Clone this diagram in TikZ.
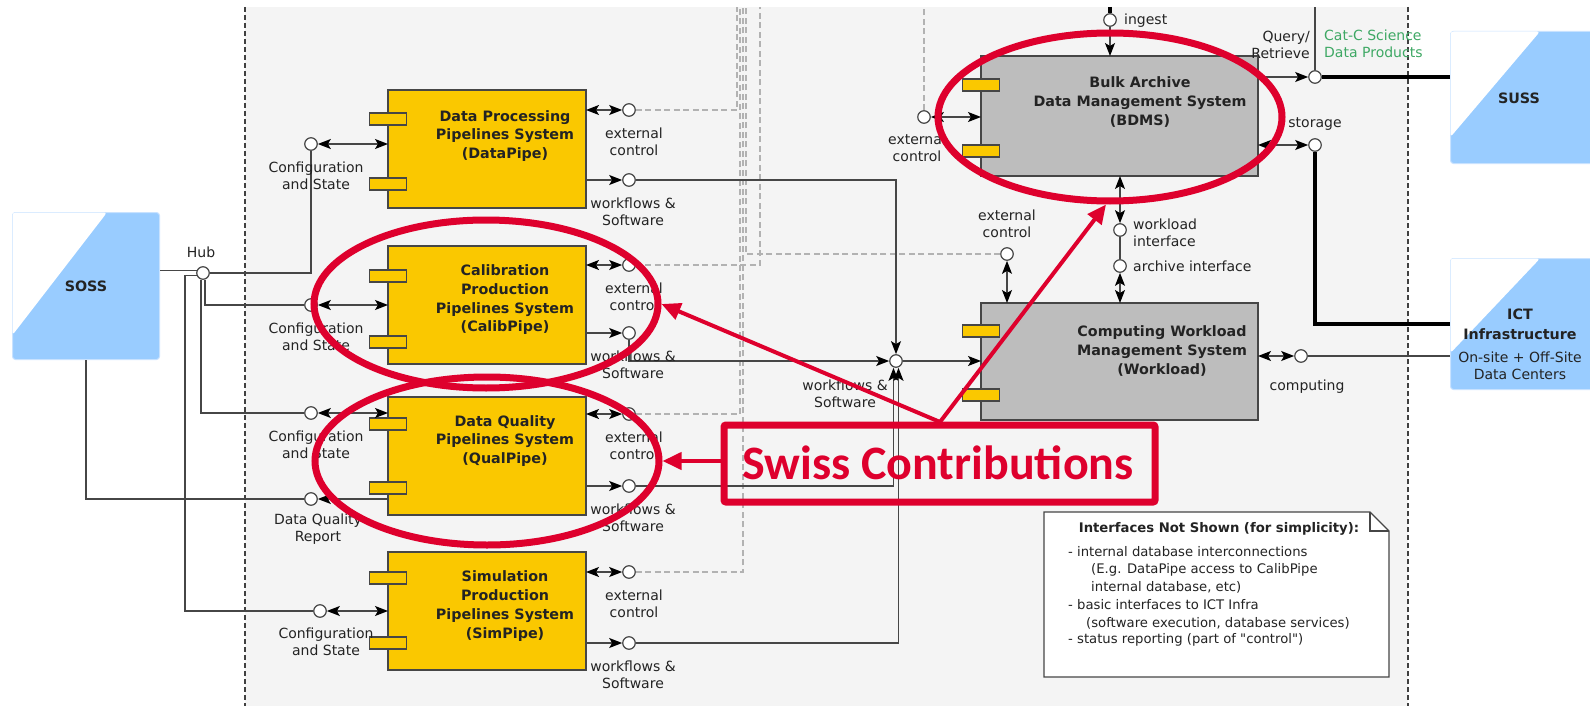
\documentclass[tikz,border=0pt]{standalone}
\usepackage{fontspec}
\setmainfont{DejaVu Sans}
\newfontfamily\swissfont{Carlito}
\usetikzlibrary{arrows.meta,calc,shapes.geometric}
\definecolor{panelgray}{RGB}{244,244,244}
\definecolor{compyellow}{RGB}{250,200,0}
\definecolor{compgray}{RGB}{189,189,189}
\definecolor{extblue}{RGB}{153,204,255}
\definecolor{extedge}{RGB}{200,226,255}
\definecolor{linegray}{RGB}{70,70,70}
\definecolor{dashgray}{RGB}{178,178,178}
\definecolor{swissred}{RGB}{222,0,45}
\definecolor{catgreen}{RGB}{62,168,100}
\definecolor{textgray}{RGB}{35,35,35}
\newcommand{\lblsize}{\fontsize{14}{17}\selectfont}
\newcommand{\boxsize}{\bfseries\fontsize{14.3}{18.7}\selectfont}
\newcommand{\notesize}{\fontsize{13.2}{17.6}\selectfont}
\begin{document}
\begin{tikzpicture}[x=1pt,y=-1pt,
  comp/.style={draw=linegray,line width=1.3pt,fill=compyellow,minimum width=198pt,minimum height=118pt,inner sep=0pt,outer sep=0pt,anchor=north west},
  graycomp/.style={comp,fill=compgray,minimum width=277pt},
  portbox/.style={draw=linegray,line width=1.1pt,fill=compyellow,minimum width=37pt,minimum height=12pt,inner sep=0pt},
  iface/.style={circle,draw=linegray,line width=1.2pt,fill=white,minimum size=12.5pt,inner sep=0pt},
  conn/.style={draw=linegray,line width=1.3pt},
  arr/.style={conn,-{Stealth[length=13pt,width=10pt,inset=3pt,color=black]}},
  darr/.style={conn,{Stealth[length=13pt,width=10pt,inset=3pt,color=black]}-{Stealth[length=13pt,width=10pt,inset=3pt,color=black]}},
  ctrldash/.style={draw=dashgray,line width=1.3pt,dash pattern=on 6pt off 3.5pt},
  heavy/.style={draw=black,line width=3.8pt},
  lbl/.style={font=\lblsize,text=textgray,align=center,inner sep=0pt},
  boxlbl/.style={font=\boxsize,text=textgray,align=center,inner sep=0pt},
  notelbl/.style={font=\notesize,text=textgray,inner sep=0pt,anchor=west},
  extsys/.style={draw=extedge,line width=1pt,fill=extblue,rounded corners=3pt,inner sep=0pt,anchor=north west},
  redring/.style={ellipse,draw=swissred,line width=7pt,minimum width=344pt,minimum height=168pt,inner sep=0pt},
  redarrow/.style={draw=swissred,line width=4pt,-{Triangle[length=19pt,width=17pt]}},
]
\useasboundingbox (0,0) rectangle (1590,706);
\clip (0,0) rectangle (1590,706);
% background
\fill[white] (0,0) rectangle (1590,706);
\fill[panelgray] (245,7) rectangle (1408,706);
\draw[black!75,line width=1.2pt,dash pattern=on 5pt off 3pt] (245,7) -- (245,706);
\draw[black!75,line width=1.2pt,dash pattern=on 5pt off 3pt] (1408,7) -- (1408,706);

% external systems
\node[extsys,minimum width=147pt,minimum height=147pt] (soss) at (12,212) {};
\fill[white,rounded corners=3pt] (12.5,212.5) -- (107,212.5) -- (12.5,335) -- cycle;
\node[extsys,minimum width=160pt,minimum height=132pt] (suss) at (1450,31) {};
\fill[white,rounded corners=3pt] (1450.5,31.5) -- (1540,31.5) -- (1450.5,137) -- cycle;
\node[extsys,minimum width=160pt,minimum height=131pt] (ict) at (1450,258) {};
\fill[white,rounded corners=3pt] (1450.5,258.5) -- (1540,258.5) -- (1450.5,353) -- cycle;
\node[font=\bfseries\fontsize{14.3}{17}\selectfont,text=textgray,inner sep=0pt] (sosst) at (86,286) {SOSS};
\node[font=\bfseries\fontsize{14.3}{17}\selectfont,text=textgray,inner sep=0pt] (susst) at (1519,98) {SUSS};
\node[font=\bfseries\fontsize{14.3}{20}\selectfont,text=textgray,align=center,inner sep=0pt] (ictt) at (1520,324) {ICT\\Infrastructure};
\node[lbl] (ictsub) at (1520,366) {On-site + Off-Site\\Data Centers};

% components
\node[comp] (dp) at (388,90) {};
\node[comp] (cp) at (388,246) {};
\node[comp] (qp) at (388,397) {};
\node[comp] (sp) at (388,552) {};
\node[graycomp,minimum height=120pt] (bd) at (981,56) {};
\node[graycomp,minimum height=117pt] (wl) at (981,303) {};
\node[portbox] (dpp1) at (388,119) {};
\node[portbox] (dpp2) at (388,184) {};
\node[portbox] (cpp1) at (388,276) {};
\node[portbox] (cpp2) at (388,342) {};
\node[portbox] (qpp1) at (388,424) {};
\node[portbox] (qpp2) at (388,488) {};
\node[portbox] (spp1) at (388,578) {};
\node[portbox] (spp2) at (388,643) {};
\node[portbox] (bdp1) at (981,85) {};
\node[portbox] (bdp2) at (981,151) {};
\node[portbox] (wlp1) at (981,331) {};
\node[portbox] (wlp2) at (981,395) {};
\node[boxlbl] (dpt) at (505,136) {Data Processing\\Pipelines System\\(DataPipe)};
\node[boxlbl] (cpt) at (505,300) {Calibration\\Production\\Pipelines System\\(CalibPipe)};
\node[boxlbl] (qpt) at (505,441) {Data Quality\\Pipelines System\\(QualPipe)};
\node[boxlbl] (spt) at (505,606) {Simulation\\Production\\Pipelines System\\(SimPipe)};
\node[boxlbl] (bdt) at (1140,102) {Bulk Archive\\Data Management System\\(BDMS)};
\node[boxlbl] (wlt) at (1162,351) {Computing Workload\\Management System\\(Workload)};

% interfaces
\node[iface] (hub) at (203,273) {};
\node[iface] (dpcfg) at (311,144) {};
\node[iface] (cpcfg) at (311,305) {};
\node[iface] (qpcfg) at (311,413) {};
\node[iface] (qprep) at (311,499) {};
\node[iface] (spcfg) at (320,611) {};
\node[iface] (dpext) at (629,110) {};
\node[iface] (dpwf) at (629,180) {};
\node[iface] (cpext) at (629,265) {};
\node[iface] (cpwf) at (629,333) {};
\node[iface] (qpext) at (629,414) {};
\node[iface] (qpwf) at (629,486) {};
\node[iface] (spext) at (629,572) {};
\node[iface] (spwf) at (629,643) {};
\node[iface] (junc) at (896,361) {};
\node[iface] (bdext) at (924,117) {};
\node[iface] (ing) at (1110,20) {};
\node[iface] (qr) at (1315,77) {};
\node[iface] (st) at (1315,145) {};
\node[iface] (wlext) at (1007,254) {};
\node[iface] (wi) at (1120,230) {};
\node[iface] (ai) at (1120,266) {};
\node[iface] (cmp) at (1301,356) {};

% free ends
\coordinate (simx) at (185,0);
\coordinate (dA) at (737,7);
\coordinate (dB) at (740,7);
\coordinate (dC) at (743,7);
\coordinate (dD) at (746,7);
\coordinate (dE) at (760,7);
\coordinate (dF) at (924,7);
\coordinate (ingtop) at (1110,7);
\coordinate (qrtop) at (1315,7);

% dashed control lines
\draw[ctrldash] (dpext.east) -| (dA);
\draw[ctrldash] (qpext.east) -| (dB);
\draw[ctrldash] (spext.east) -| (dC);
\draw[ctrldash] (wlext.west) -| (dD);
\draw[ctrldash] (cpext.east) -| (dE);
\draw[ctrldash] (bdext.north) -- (dF);

% hub wiring
\draw[conn] (hub.160 -| soss.east) -- (hub.160);
\draw[conn] (hub.east) -| (dpcfg.south);
\draw[conn] ([xshift=2pt]hub.south) |- (cpcfg.west);
\draw[conn] ([xshift=-2pt]hub.south) |- (qpcfg.west);
\draw[conn] (hub.200) -- (hub.200 -| simx) |- (spcfg.west);
\draw[conn] (soss.south) |- (qprep.west);

% left arrows
\draw[darr] (dpcfg.east) -- (dpcfg.east -| dp.west);
\draw[darr] (cpcfg.east) -- (cpcfg.east -| cp.west);
\draw[darr] (qpcfg.east) -- (qpcfg.east -| qp.west);
\draw[darr] (spcfg.east) -- (spcfg.east -| sp.west);
\draw[arr] (qprep.east -| qp.west) -- (qprep.east);

% right arrows
\draw[darr] (dpext.west -| dp.east) -- (dpext.west);
\draw[arr] (dpwf.west -| dp.east) -- (dpwf.west);
\draw[darr] (cpext.west -| cp.east) -- (cpext.west);
\draw[arr] (cpwf.west -| cp.east) -- (cpwf.west);
\draw[darr] (qpext.west -| qp.east) -- (qpext.west);
\draw[arr] (qpwf.west -| qp.east) -- (qpwf.west);
\draw[darr] (spext.west -| sp.east) -- (spext.west);
\draw[arr] (spwf.west -| sp.east) -- (spwf.west);

% workflows to junction
\draw[arr] (dpwf.east) -| (junc.north);
\draw[arr] (cpwf.south) |- (junc.west);
\draw[arr] (qpwf.east) -| ([xshift=-2.5pt]junc.south);
\draw[arr] (spwf.east) -| ([xshift=2.5pt]junc.south);
\draw[arr] (junc.east) -- (junc.east -| wl.west);

% BDMS and Workload
\draw[heavy] (ingtop) -- (ing.north);
\draw[arr] (ing.south) -- (ing.south |- bd.north);
\draw[darr] (bdext.east) -- (bdext.east -| bd.west);
\draw[arr] (qr.west -| bd.east) -- (qr.west);
\draw[heavy] (qr.east) -- (qr.east -| suss.west);
\draw[conn] (qr.north) -- (qrtop);
\draw[darr] (st.west -| bd.east) -- (st.west);
\draw[heavy] (st.south) |- (ict.west);
\draw[darr] (wi.north) -- (wi.north |- bd.south);
\draw[conn] (wi.south) -- (ai.north);
\draw[darr] (ai.south) -- (ai.south |- wl.north);
\draw[darr] (wlext.south) -- (wlext.south |- wl.north);
\draw[darr] (cmp.west -| wl.east) -- (cmp.west);
\draw[conn] (cmp.east) -- (cmp.east -| ict.west);

% labels
\node[lbl] (hubt) at (201,252) {Hub};
\node[lbl] (dpcfgt) at (316,176) {Configuration\\and State};
\node[lbl] (cpcfgt) at (316,337) {Configuration\\and State};
\node[lbl] (qpcfgt) at (316,445) {Configuration\\and State};
\node[lbl] (qprept) at (318,529) {Data Quality\\Report};
\node[lbl] (spcfgt) at (326,642) {Configuration\\and State};
\node[lbl] (dpextt) at (634,142) {external\\control};
\node[lbl] (dpwft) at (633,212) {workflows \&\\Software};
\node[lbl] (cpextt) at (634,297) {external\\control};
\node[lbl] (cpwft) at (633,365) {workflows \&\\Software};
\node[lbl] (qpextt) at (634,446) {external\\control};
\node[lbl] (qpwft) at (633,518) {workflows \&\\Software};
\node[lbl] (spextt) at (634,604) {external\\control};
\node[lbl] (spwft) at (633,675) {workflows \&\\Software};
\node[lbl] (junct) at (845,394) {workflows \&\\Software};
\node[lbl] (bdextt) at (917,148) {external\\control};
\node[lbl,anchor=west] (ingt) at (1124,21) {ingest};
\node[lbl,anchor=east,align=right] (qrt) at (1310,45) {Query/\\Retrieve};
\node[lbl,anchor=west,align=left,text=catgreen] (catt) at (1324,44) {Cat-C Science\\Data Products};
\node[lbl] (stt) at (1315,124) {storage};
\node[lbl] (wlextt) at (1007,224) {external\\control};
\node[lbl,anchor=west,align=left] (wit) at (1133,233) {workload\\interface};
\node[lbl,anchor=west] (ait) at (1133,266) {archive interface};
\node[lbl] (cmpt) at (1307,387) {computing};

% note
\node[minimum width=345pt,minimum height=165pt,inner sep=0pt,outer sep=0pt,anchor=north west] (note) at (1044,512) {};
\draw[draw=linegray,line width=1.3pt,fill=white] (note.north west) -- ($(note.north east)+(-19,0)$) -- ($(note.north east)+(0,19)$) -- (note.south east) -- (note.south west) -- cycle;
\draw[linegray,line width=1.3pt] ($(note.north east)+(-19,0)$) -- ($(note.north east)+(-19,19)$) -- ($(note.north east)+(0,19)$);
\node[font=\bfseries\notesize,text=textgray,inner sep=0pt] (nt) at (1219,529) {Interfaces Not Shown (for simplicity):};
\node[notelbl] (n1) at (1068,552) {- internal database interconnections};
\node[notelbl] (n2) at (1091,570) {(E.g. DataPipe access to CalibPipe};
\node[notelbl] (n3) at (1091,587) {internal database, etc)};
\node[notelbl] (n4) at (1068,605) {- basic interfaces to ICT Infra};
\node[notelbl] (n5) at (1086,623) {(software execution, database services)};
\node[notelbl] (n6) at (1068,640) {- status reporting (part of \textquotedbl control\textquotedbl)};

% Swiss annotations
\node[redring] (ellbd) at (1110,117) {};
\node[redring] (ellcp) at (486,304) {};
\node[redring] (ellqp) at (487,461) {};
\node[draw=swissred,line width=7pt,minimum width=431pt,minimum height=77pt,inner sep=0pt,outer sep=0pt,anchor=north west,rounded corners=2pt] (swiss) at (724,425) {};
\coordinate (vtx) at (940,422);
\draw[redarrow] (vtx) -- ([xshift=-4pt]ellbd.south);
\draw[redarrow] (vtx) -- (ellcp.east);
\draw[redarrow] (swiss.west |- ellqp.east) -- (ellqp.east);
\node[font=\swissfont\bfseries\fontsize{48}{48}\selectfont,text=swissred,inner sep=0pt] (swisst) at (938,463) {Swiss Contributions};
\end{tikzpicture}
\end{document}
